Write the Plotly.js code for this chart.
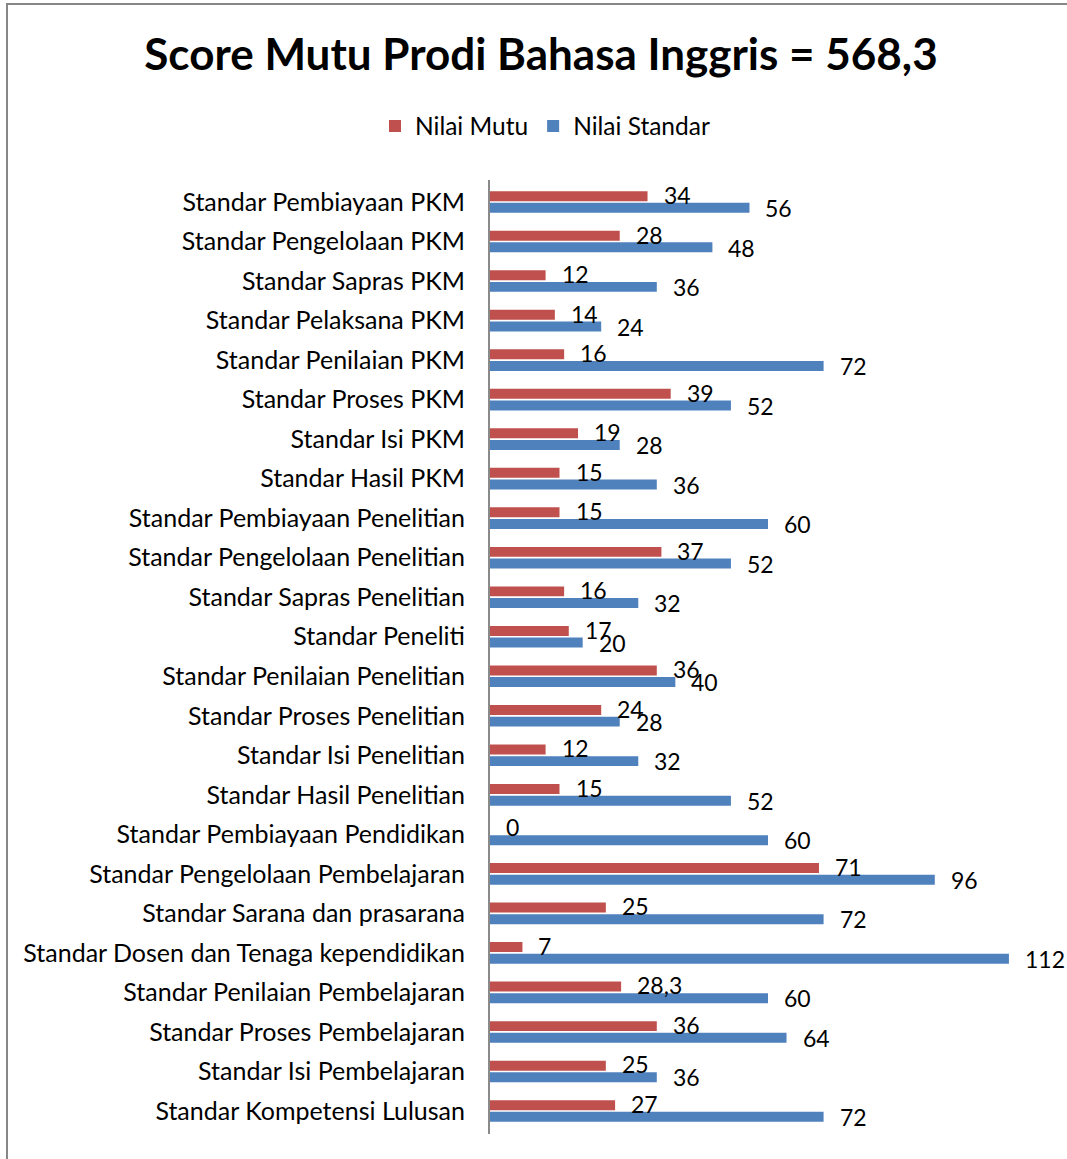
<!DOCTYPE html>
<html>
<head>
<meta charset="utf-8">
<script src="https://cdn.plot.ly/plotly-3.0.1.min.js"></script>
<style>
  html, body { margin: 0; padding: 0; background: #fff; }
  #wrap { position: relative; width: 1067px; height: 1159px; }
  #chart { width: 1067px; height: 1159px; }
  #frame { position: absolute; left: 6px; top: 3px; right: -10px; bottom: -10px;
           border-left: 2px solid #878787; border-top: 2px solid #878787; pointer-events: none; }
</style>
</head>
<body>
<div id="wrap">
  <div id="chart"></div>
  <div id="frame"></div>
</div>
<script>
const categories = [
  "Standar Pembiayaan PKM",
  "Standar Pengelolaan PKM",
  "Standar Sapras PKM",
  "Standar Pelaksana PKM",
  "Standar Penilaian PKM",
  "Standar Proses PKM",
  "Standar Isi PKM",
  "Standar Hasil PKM",
  "Standar Pembiayaan Penelitian",
  "Standar Pengelolaan Penelitian",
  "Standar Sapras Penelitian",
  "Standar Peneliti",
  "Standar Penilaian Penelitian",
  "Standar Proses Penelitian",
  "Standar Isi Penelitian",
  "Standar Hasil Penelitian",
  "Standar Pembiayaan Pendidikan",
  "Standar Pengelolaan Pembelajaran",
  "Standar Sarana dan prasarana",
  "Standar Dosen dan Tenaga kependidikan",
  "Standar Penilaian Pembelajaran",
  "Standar Proses Pembelajaran",
  "Standar Isi Pembelajaran",
  "Standar Kompetensi Lulusan"
];
const nilaiMutu = [34, 28, 12, 14, 16, 39, 19, 15, 15, 37, 16, 17, 36, 24, 12, 15, 0, 71, 25, 7, 28.3, 36, 25, 27];
const nilaiStandar = [56, 48, 36, 24, 72, 52, 28, 36, 60, 52, 32, 20, 40, 28, 32, 52, 60, 96, 72, 112, 60, 64, 36, 72];
const seriesNames = ["Nilai Mutu", "Nilai Standar"];
const titleText = "Score Mutu Prodi Bahasa Inggris = 568,3";

const FONT = "Lato, 'Open Sans', sans-serif";
const RED = "#C0504D";
const BLUE = "#4F81BD";

const fmt = v => String(v).replace(".", ",");

const traces = [
  { type: "bar", orientation: "h", name: seriesNames[0], x: nilaiMutu, y: categories,
    marker: { color: RED }, hoverinfo: "x+y" },
  { type: "bar", orientation: "h", name: seriesNames[1], x: nilaiStandar, y: categories,
    marker: { color: BLUE }, hoverinfo: "x+y" }
];

const annotations = [];
categories.forEach((c, i) => {
  annotations.push({ x: nilaiMutu[i], y: c, xref: "x", yref: "y", text: fmt(nilaiMutu[i]),
    showarrow: false, xanchor: "left", yanchor: "middle", xshift: 14, yshift: 7,
    font: { family: FONT, size: 23, color: "#000" } });
  annotations.push({ x: nilaiStandar[i], y: c, xref: "x", yref: "y", text: fmt(nilaiStandar[i]),
    showarrow: false, xanchor: "left", yanchor: "middle", xshift: 14, yshift: -6,
    font: { family: FONT, size: 23, color: "#000" } });
});

const layout = {
  width: 1067, height: 1159,
  margin: { l: 490, r: 21, t: 180, b: 25, pad: 0 },
  paper_bgcolor: "#fff", plot_bgcolor: "#fff",
  font: { family: FONT, color: "#000" },
  title: { text: "<b>" + titleText + "</b>", xref: "container", yref: "container",
           x: 0.507, y: 1 - 55 / 1159, xanchor: "center", yanchor: "middle",
           font: { family: FONT, size: 44, color: "#000" } },
  showlegend: true,
  legend: { orientation: "h", xref: "container", yref: "container",
            x: 545 / 1067, y: 1 - 126 / 1159, xanchor: "center", yanchor: "middle",
            font: { family: FONT, size: 24.5, color: "#000" }, itemwidth: 30, traceorder: "normal" },
  barmode: "group", bargap: 0.41, bargroupgap: 0.145,
  xaxis: { range: [0, 120], showgrid: false, zeroline: false, showline: false,
           showticklabels: false, ticks: "", fixedrange: true },
  yaxis: { type: "category", autorange: "reversed", showgrid: false, zeroline: false,
           showline: true, linecolor: "#8a8a8a", linewidth: 2,
           ticks: "outside", ticklen: 18, tickcolor: "rgba(0,0,0,0)",
           tickfont: { family: FONT, size: 25, color: "#000" }, automargin: false },
  annotations: annotations
};

Plotly.newPlot("chart", traces, layout, { displayModeBar: false, responsive: false, staticPlot: true });
</script>
</body>
</html>
